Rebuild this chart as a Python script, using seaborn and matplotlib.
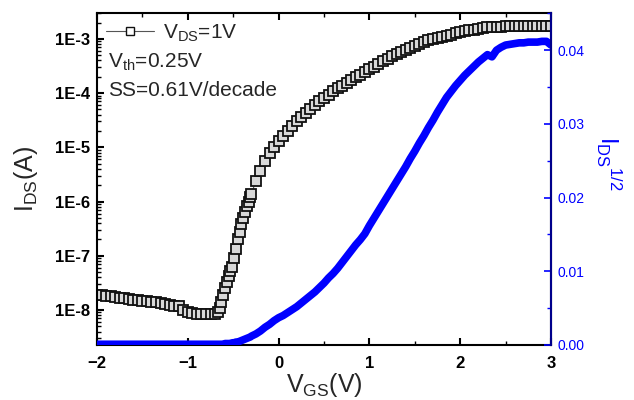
import numpy as np
import matplotlib
matplotlib.use("Agg")
import matplotlib.pyplot as plt
import matplotlib.ticker as mticker
import seaborn as sns

# gate voltage sweep (V)
vgs = [-2.00, -1.95, -1.90, -1.85, -1.80, -1.75, -1.70, -1.65, -1.60, -1.55,
       -1.50, -1.45, -1.40, -1.35, -1.30, -1.25, -1.20, -1.15, -1.10, -1.05,
       -1.00, -0.95, -0.90, -0.85, -0.80, -0.75, -0.70,
       -0.67, -0.65, -0.63, -0.61, -0.59, -0.57, -0.55, -0.53, -0.51, -0.49,
       -0.47, -0.45, -0.43, -0.41, -0.39, -0.37, -0.35, -0.33, -0.31,
       -0.30, -0.25, -0.20, -0.15, -0.10, -0.05,
       0.00, 0.05, 0.10, 0.15, 0.20, 0.25, 0.30, 0.35, 0.40, 0.45,
       0.50, 0.55, 0.60, 0.65, 0.70, 0.75, 0.80, 0.85, 0.90, 0.95,
       1.00, 1.05, 1.10, 1.15, 1.20, 1.25, 1.30, 1.35, 1.40, 1.45,
       1.50, 1.55, 1.60, 1.65, 1.70, 1.75, 1.80, 1.85, 1.90, 1.95,
       2.00, 2.05, 2.10, 2.15, 2.20, 2.25, 2.30, 2.35, 2.40, 2.45,
       2.50, 2.55, 2.60, 2.65, 2.70, 2.75, 2.80, 2.85, 2.90, 2.95, 3.00]

# log10 of drain current (A)
log_ids = [-7.72, -7.73, -7.74, -7.75, -7.76, -7.77, -7.78, -7.80, -7.81, -7.82,
           -7.83, -7.84, -7.85, -7.86, -7.87, -7.89, -7.90, -7.92, -7.93, -8.00,
           -8.04, -8.06, -8.07, -8.07, -8.08, -8.08, -8.08,
           -8.04, -7.96, -7.85, -7.72, -7.60, -7.48, -7.38, -7.29, -7.20, -7.05,
           -6.87, -6.70, -6.56, -6.42, -6.30, -6.19, -6.09, -6.00, -5.92,
           -5.86, -5.62, -5.43, -5.26, -5.11, -4.99,
           -4.88, -4.79, -4.70, -4.61, -4.52, -4.44, -4.36, -4.29, -4.22, -4.15,
           -4.09, -4.03, -3.97, -3.91, -3.86, -3.81, -3.76, -3.71, -3.66, -3.61,
           -3.56, -3.51, -3.46, -3.41, -3.37, -3.32, -3.28, -3.24, -3.20, -3.16,
           -3.13, -3.09, -3.06, -3.03, -3.00, -2.98, -2.96, -2.94, -2.92, -2.90,
           -2.88, -2.86, -2.84, -2.83, -2.81, -2.80, -2.79, -2.79, -2.78, -2.78,
           -2.77, -2.77, -2.77, -2.77, -2.77, -2.77, -2.77, -2.77, -2.77, -2.77, -2.77]

# sqrt(I_DS)
sqrt_ids = [0.0001] * 27 + [
    0.0001, 0.0001, 0.0001, 0.0001, 0.0002, 0.0002, 0.0002, 0.0002, 0.0003, 0.0003,
    0.0004, 0.0004, 0.0005, 0.0006, 0.0007, 0.0008, 0.0009, 0.0010, 0.0011,
    0.0012, 0.0015, 0.0019, 0.0024, 0.0028, 0.0033,
    0.0037, 0.0040, 0.0044, 0.0048, 0.0052, 0.0057, 0.0062, 0.0067, 0.0072, 0.0078,
    0.0084, 0.0091, 0.0097, 0.0104, 0.0112, 0.0120, 0.0128, 0.0136, 0.0143, 0.0151,
    0.0162, 0.0172, 0.0182, 0.0192, 0.0202, 0.0212, 0.0222, 0.0232, 0.0242, 0.0253,
    0.0263, 0.0274, 0.0284, 0.0295, 0.0305, 0.0316, 0.0326, 0.0336, 0.0344, 0.0352,
    0.0359, 0.0366, 0.0372, 0.0378, 0.0384, 0.0389, 0.0394, 0.0391, 0.0400, 0.0404,
    0.0407, 0.0408, 0.0409, 0.0410, 0.0410, 0.0411, 0.0411, 0.0411, 0.0412, 0.0412, 0.0407]

ids = 10 ** np.array(log_ids)
decades = [1e-8, 1e-7, 1e-6, 1e-5, 1e-4, 1e-3]

sns.set_theme(style="ticks")
plt.rcParams['font.family'] = ['Liberation Sans', 'DejaVu Sans']
plt.rcParams['mathtext.default'] = 'regular'

fig = plt.figure(figsize=(6.34, 4.0), dpi=100)
ax = fig.add_axes([97 / 634, 55 / 400, 454 / 634, 332 / 400])

# curva I_DS em escala log
sns.lineplot(x=vgs, y=ids, ax=ax, sort=False, color='#555555', linewidth=0.8,
             marker='s', markersize=6.5, markerfacecolor='#d8d8d8',
             markeredgecolor='#111111', markeredgewidth=1.3,
             label='$V_{DS}$=1V')
ax.set_yscale('log')
ax.set_xlim(-2, 3)
ax.set_ylim(2.26e-9, 3.0e-3)

ax.xaxis.set_major_locator(mticker.MultipleLocator(1))
ax.xaxis.set_minor_locator(mticker.MultipleLocator(0.5))
ax.yaxis.set_major_locator(mticker.FixedLocator(decades))
ax.yaxis.set_minor_locator(mticker.LogLocator(base=10, subs=np.arange(2, 10), numticks=20))
ax.yaxis.set_minor_formatter(mticker.NullFormatter())
ax.yaxis.set_major_formatter(mticker.FuncFormatter(lambda v, p: f"1E{int(round(np.log10(v)))}"))

ax.tick_params(axis='both', which='both', direction='in', top=True, right=False, colors='black')
ax.tick_params(which='major', length=5, width=1.5, labelsize=12, pad=5)
ax.tick_params(which='minor', length=3, width=1)
ax.tick_params(axis='x', which='major', pad=8)
plt.setp(ax.get_xticklabels() + ax.get_yticklabels(), fontweight='bold')
for s in ax.spines.values():
    s.set_linewidth(1.5)
    s.set_color('black')

ax.set_xlabel('$V_{GS}$(V)', fontsize=18, labelpad=0)
ax.set_ylabel('$I_{DS}$(A)', fontsize=18)
ax.yaxis.set_label_coords(-0.125, 0.5)

leg = ax.legend(loc='upper left', frameon=False, fontsize=15, handlelength=2.3,
                handletextpad=0.4, borderaxespad=0.3, borderpad=0.15)
for h in leg.get_lines():
    h.set_markerfacecolor('white')
    h.set_markeredgewidth(1.0)
    h.set_markersize(5.5)
ax.text(0.024, 0.852, '$V_{th}$=0.25V', transform=ax.transAxes, fontsize=15, va='center')
ax.text(0.024, 0.768, 'SS=0.61V/decade', transform=ax.transAxes, fontsize=15, va='center')

# curva sqrt(I_DS) no eixo da direita
ax2 = ax.twinx()
sns.lineplot(x=vgs, y=sqrt_ids, ax=ax2, sort=False, color='blue', linewidth=5.5,
             solid_capstyle='round', solid_joinstyle='round')
ax2.set_ylim(0, 0.04505)
ax2.yaxis.set_major_locator(mticker.MultipleLocator(0.01))
ax2.yaxis.set_minor_locator(mticker.MultipleLocator(0.005))
ax2.yaxis.set_major_formatter(mticker.FormatStrFormatter('%.2f'))
ax2.tick_params(axis='y', which='both', direction='in', colors='blue', labelcolor='blue')
ax2.tick_params(axis='y', which='major', length=5, width=1.2, labelsize=10, pad=5)
ax2.tick_params(axis='y', which='minor', length=3, width=1)
ax2.spines['right'].set_color('#00008B')
ax2.spines['right'].set_linewidth(1.5)
for k in ['left', 'top', 'bottom']:
    ax2.spines[k].set_visible(False)
ax2.set_ylabel('$I_{DS}{}^{1/2}$', fontsize=17, color='blue', rotation=-90, va='bottom')
ax2.yaxis.set_label_coords(1.095, 0.548)

fig.savefig('out.png', dpi=100)
